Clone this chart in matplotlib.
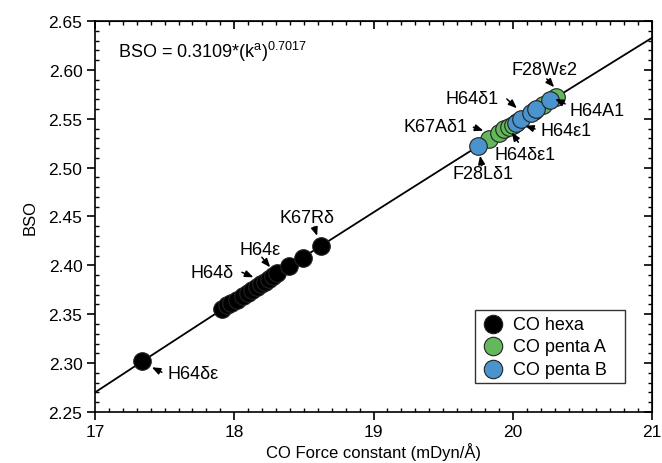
import numpy as np
import matplotlib
matplotlib.use("Agg")
import matplotlib.pyplot as plt
from matplotlib.ticker import MultipleLocator

plt.rcParams['font.family'] = ['Liberation Sans', 'DejaVu Sans']
plt.rcParams['mathtext.fontset'] = 'custom'
plt.rcParams['mathtext.rm'] = 'Liberation Sans'
plt.rcParams['mathtext.it'] = 'Liberation Sans'

# data
hexa_k = [17.34, 17.91, 17.95, 17.98, 18.02, 18.06, 18.10, 18.13, 18.16,
          18.19, 18.22, 18.25, 18.28, 18.31, 18.39, 18.49, 18.62]
hexa_bso = [2.302, 2.355, 2.359, 2.361, 2.365, 2.369, 2.372, 2.375, 2.378,
            2.381, 2.383, 2.386, 2.389, 2.392, 2.399, 2.408, 2.420]

pentaA_k = [19.83, 19.90, 19.94, 19.97, 20.00, 20.03, 20.15, 20.22, 20.31]
pentaA_bso = [2.529, 2.535, 2.539, 2.542, 2.544, 2.547, 2.558, 2.564, 2.572]

pentaB_k = [19.75, 20.02, 20.06, 20.13, 20.17, 20.27]
pentaB_bso = [2.522, 2.546, 2.550, 2.556, 2.560, 2.569]

# fit: BSO = a * k^b
fit_a = 0.3109
fit_b = 0.7017

# labels: (text, text pos, arrow tail, arrow tip)
labels = [
    ("H64δε", (17.707, 2.2889), (17.480, 2.2906), (17.408, 2.2957)),
    ("H64δ", (17.839, 2.3929), (18.055, 2.3929), (18.138, 2.3878)),
    ("H64ε", (18.186, 2.4160), (18.198, 2.4083), (18.258, 2.3980)),
    ("K67Rδ", (18.523, 2.4485), (18.574, 2.4393), (18.595, 2.4301)),
    ("F28Lδ1", (19.789, 2.4935), (19.777, 2.5020), (19.765, 2.5122)),
    ("K67Aδ1", (19.442, 2.5423), (19.717, 2.5413), (19.789, 2.5378)),
    ("H64δ1", (19.711, 2.5702), (19.957, 2.5702), (20.029, 2.5607)),
    ("F28Wε2", (20.225, 2.6000), (20.244, 2.5907), (20.297, 2.5822)),
    ("H64A1", (20.603, 2.5582), (20.376, 2.5652), (20.304, 2.5703)),
    ("H64ε1", (20.383, 2.5378), (20.160, 2.5395), (20.088, 2.5429)),
    ("H64δε1", (20.088, 2.5139), (20.040, 2.5259), (19.993, 2.5361)),
]

fs_ann = 13
fs_tick = 12.5
fs_lab = 12
fig = plt.figure(figsize=(6.62, 4.64), dpi=100)
ax = fig.add_axes([0.1435, 0.110, 0.8415, 0.8426])

kk = np.linspace(17, 21, 200)
ax.plot(kk, fit_a * kk ** fit_b, color='black', lw=1.3, zorder=1)

mk = dict(s=160, edgecolors='#222222', linewidths=0.8, zorder=3)
ax.scatter(hexa_k, hexa_bso, color='black', label='CO hexa', **mk)
ax.scatter(pentaA_k, pentaA_bso, color='#62B85A', label='CO penta A', **mk)
ax.scatter(pentaB_k, pentaB_bso, color='#4A93CC', label='CO penta B', **mk)

for txt, tpos, tail, tip in labels:
    ax.text(tpos[0], tpos[1], txt, fontsize=fs_ann, ha='center', va='center')
    ax.annotate('', xy=tip, xytext=tail,
                arrowprops=dict(arrowstyle='-|>,head_length=0.5,head_width=0.2',
                                color='black', lw=1.1, shrinkA=0, shrinkB=0))

ax.text(0.0416, 0.923, r'BSO = 0.3109*(k$^{\mathrm{a}}$)$^{0.7017}$',
        transform=ax.transAxes, fontsize=fs_ann, ha='left', va='center')

ax.set_xlim(17, 21)
ax.set_ylim(2.25, 2.65)
ax.xaxis.set_major_locator(MultipleLocator(1))
ax.xaxis.set_minor_locator(MultipleLocator(0.1))
ax.yaxis.set_minor_locator(MultipleLocator(0.01))
ax.set_yticks(np.arange(2.25, 2.651, 0.05))
ax.set_yticklabels(['%.2f' % v for v in np.arange(2.25, 2.651, 0.05)])
ax.tick_params(which='major', direction='out', length=6, width=1.2,
               labelsize=fs_tick, pad=3)
ax.tick_params(which='minor', direction='in', length=3, width=1.0)

top = ax.secondary_xaxis('top')
top.xaxis.set_major_locator(MultipleLocator(1))
top.xaxis.set_minor_locator(MultipleLocator(0.1))
top.tick_params(which='major', direction='in', length=6, width=1.2, labeltop=False)
top.tick_params(which='minor', direction='in', length=3, width=1.0)
right = ax.secondary_yaxis('right')
right.yaxis.set_major_locator(MultipleLocator(0.05))
right.yaxis.set_minor_locator(MultipleLocator(0.01))
right.tick_params(which='major', direction='in', length=6, width=1.2, labelright=False)
right.tick_params(which='minor', direction='in', length=3, width=1.0)

for sp in ax.spines.values():
    sp.set_linewidth(1.2)

ax.set_xlabel('CO Force constant (mDyn/Å)', fontsize=fs_lab, labelpad=2)
ax.set_ylabel('BSO', fontsize=fs_lab, labelpad=8)

leg = ax.legend(loc='lower left', bbox_to_anchor=(0.6823, 0.074, 0.2692, 0.184),
                mode='expand', fontsize=fs_ann,
                frameon=True, fancybox=False, edgecolor='black', borderpad=0.3,
                handletextpad=0.42, labelspacing=0.3, borderaxespad=0,
                handlelength=1.4, markerscale=1.05)
leg.get_frame().set_linewidth(1.0)

fig.savefig('out.png', dpi=100)
